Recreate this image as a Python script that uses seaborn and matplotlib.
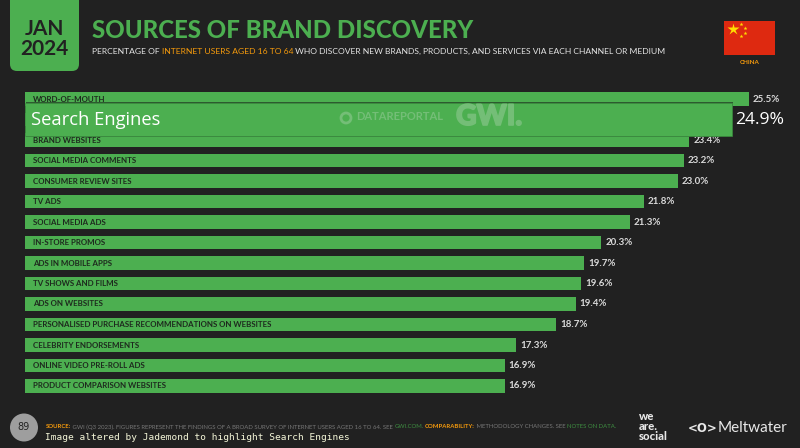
"""Fontes de descoberta de marcas (China, Jan 2024), em barras horizontais."""

import matplotlib.patheffects as pe
import matplotlib.pyplot as plt
import seaborn as sns
from matplotlib.patches import Circle, FancyBboxPatch, Rectangle

BG = "#212121"
GREEN = "#4CAF50"
ORANGE = "#F59A0C"
DARK = "#1E2A1E"
SANS = ["Lato", "DejaVu Sans"]
HIGHLIGHT_FONT = ["Open Sans", "DejaVu Sans"]

channels = [
    "WORD-OF-MOUTH", "Search Engines", "BRAND WEBSITES", "SOCIAL MEDIA COMMENTS",
    "CONSUMER REVIEW SITES", "TV ADS", "SOCIAL MEDIA ADS", "IN-STORE PROMOS",
    "ADS IN MOBILE APPS", "TV SHOWS AND FILMS", "ADS ON WEBSITES",
    "PERSONALISED PURCHASE RECOMMENDATIONS ON WEBSITES", "CELEBRITY ENDORSEMENTS",
    "ONLINE VIDEO PRE-ROLL ADS", "PRODUCT COMPARISON WEBSITES",
]
shares = [25.5, 24.9, 23.4, 23.2, 23.0, 21.8, 21.3, 20.3, 19.7, 19.6, 19.4, 18.7, 17.3, 16.9, 16.9]
highlight = "Search Engines"

subtitle_runs = [
    ("PERCENTAGE OF ", "#E4E4E4"),
    ("INTERNET USERS AGED 16 TO 64", ORANGE),
    (" WHO DISCOVER NEW BRANDS, PRODUCTS, AND SERVICES VIA EACH CHANNEL OR MEDIUM", "#E4E4E4"),
]
source_runs = [
    ("SOURCE:", ORANGE, "bold"),
    (" GWI (Q3 2023). FIGURES REPRESENT THE FINDINGS OF A BROAD SURVEY OF INTERNET USERS AGED 16 TO 64. SEE ", "#777777", "normal"),
    ("GWI.COM.", "#3E8E41", "normal"),
    (" ", "#777777", "normal"),
    ("COMPARABILITY:", ORANGE, "bold"),
    (" METHODOLOGY CHANGES. SEE ", "#777777", "normal"),
    ("NOTES ON DATA.", "#3E8E41", "normal"),
]


def draw_runs(ax, x, y, runs, size):
    """Escreve trechos coloridos em sequência na mesma linha."""
    renderer = ax.figure.canvas.get_renderer()
    inv = ax.transData.inverted()
    for run in runs:
        text, color = run[0], run[1]
        weight = run[2] if len(run) > 2 else "normal"
        t = ax.text(x, y, text.replace(" ", "\u00a0"), color=color, fontsize=size, fontweight=weight,
                    family=SANS, va="center", ha="left")
        bbox = t.get_window_extent(renderer)
        x = inv.transform((bbox.x1, bbox.y0))[0]


sns.set_theme(style="dark")
fig = plt.figure(figsize=(8, 4.48), dpi=100, facecolor=BG)

# eixo do gráfico: x=25px é o zero, 28.39px por ponto percentual, linhas a cada 20.5px
ax = fig.add_axes([25 / 800, 1 - 400 / 448, 750 / 800, 315 / 448])
ax.set_facecolor("none")
sns.barplot(x=shares, y=channels, color=GREEN, saturation=1, width=0.68, linewidth=0, ax=ax, orient="h")
ax.set_xlim(0, 750 / 28.39)
ax.set_ylim((400 - 99) / 20.5, (85 - 99) / 20.5)
ax.set_axis_off()

hi = channels.index(highlight)
for i, (name, value) in enumerate(zip(channels, shares)):
    if name == highlight:
        continue
    ax.text(0.28, i, name, color=DARK, fontsize=5.7, fontweight="bold", family=SANS, va="center")
    ax.text(value + 0.14, i, f"{value:.1f}%", color="#DADADA", fontsize=7, fontweight="bold",
            family=SANS, va="center")

# barra destacada por cima das vizinhas
ax.barh(hi, shares[hi], height=1.72, left=0.03, color="#141414", alpha=0.55, linewidth=0, zorder=4)
ax.barh(hi, shares[hi], height=1.6, color=GREEN, edgecolor="#3B8F3F", linewidth=0.5, zorder=5)
ax.text(0.21, hi, highlight, color="white", fontsize=13.2, family=HIGHLIGHT_FONT, va="center", zorder=6)
ax.text(shares[hi] + 0.1, hi, f"{shares[hi]:.1f}%", color="white", fontsize=12.6, family=HIGHLIGHT_FONT,
        va="center", zorder=6)

# camada em pixels para cabeçalho, marcas e rodapé
top = fig.add_axes([0, 0, 1, 1])
top.set_xlim(0, 800)
top.set_ylim(448, 0)
top.set_axis_off()
top.patch.set_alpha(0)

top.add_patch(FancyBboxPatch((10, -12), 69, 83, boxstyle="round,pad=0,rounding_size=7", fc=GREEN, ec="none"))
top.text(44.5, 29, "JAN", color=BG, fontsize=15, fontweight="bold", family=SANS, ha="center", va="center")
top.text(44.5, 49, "2024", color=BG, fontsize=15, fontweight="bold", family=SANS, ha="center", va="center")
top.text(92, 30.5, "SOURCES OF BRAND DISCOVERY", color=GREEN, fontsize=17.3, fontweight="black", family=SANS, va="center")
draw_runs(top, 92, 51, subtitle_runs, 6.1)

# bandeira
top.add_patch(Rectangle((724, 21), 51, 34, fc="#DE2910", ec="none"))
top.plot([732.5], [29], marker="*", ms=9, color="#FFDE00", mec="none")
for sx, sy in [(741, 24), (745, 28), (745, 33), (741, 36)]:
    top.plot([sx], [sy], marker="*", ms=3, color="#FFDE00", mec="none")
top.text(749.5, 62, "CHINA", color=ORANGE, fontsize=4.5, fontweight="bold", family=SANS, ha="center", va="center")

# marcas d'água
wm = dict(color="#74BE77", family=SANS, va="center", zorder=10)
top.text(356, 116, "DATAREPORTAL", fontsize=8, fontweight="bold", **wm)
top.add_patch(Circle((346, 118), 5, fc="none", ec="#74BE77", lw=2, zorder=10))
gwi = top.text(456, 117, "GWI.", fontsize=20.5, fontweight="black", **wm)
gwi.set_path_effects([pe.withStroke(linewidth=1.2, foreground="#74BE77")])

# rodapé
top.add_patch(Circle((24, 427.5), 14, fc="#9E9E9E", ec="none"))
top.text(24, 427.5, "89", color="#222222", fontsize=7, family="DejaVu Sans", ha="center", va="center")
draw_runs(top, 46, 427, source_runs, 4.3)
top.text(45, 437, "Image altered by Jademond to highlight Search Engines", color="#F4F6D8", fontsize=6.8,
         family="DejaVu Sans Mono", va="center")
for y, word in [(417, "we"), (427, "are."), (437, "social")]:
    top.text(639, y, word, color="#E8E8E8", fontsize=8.2, fontweight="black", family=SANS, va="center")
top.text(688, 428, "<O>", color="#E8E8E8", fontsize=8.5, fontweight="bold", family="DejaVu Sans", va="center", ha="left")
top.text(718, 428, "Meltwater", color="#E8E8E8", fontsize=11, family=SANS, va="center")

fig.savefig("out.png", dpi=100, facecolor=BG)
plt.close(fig)
